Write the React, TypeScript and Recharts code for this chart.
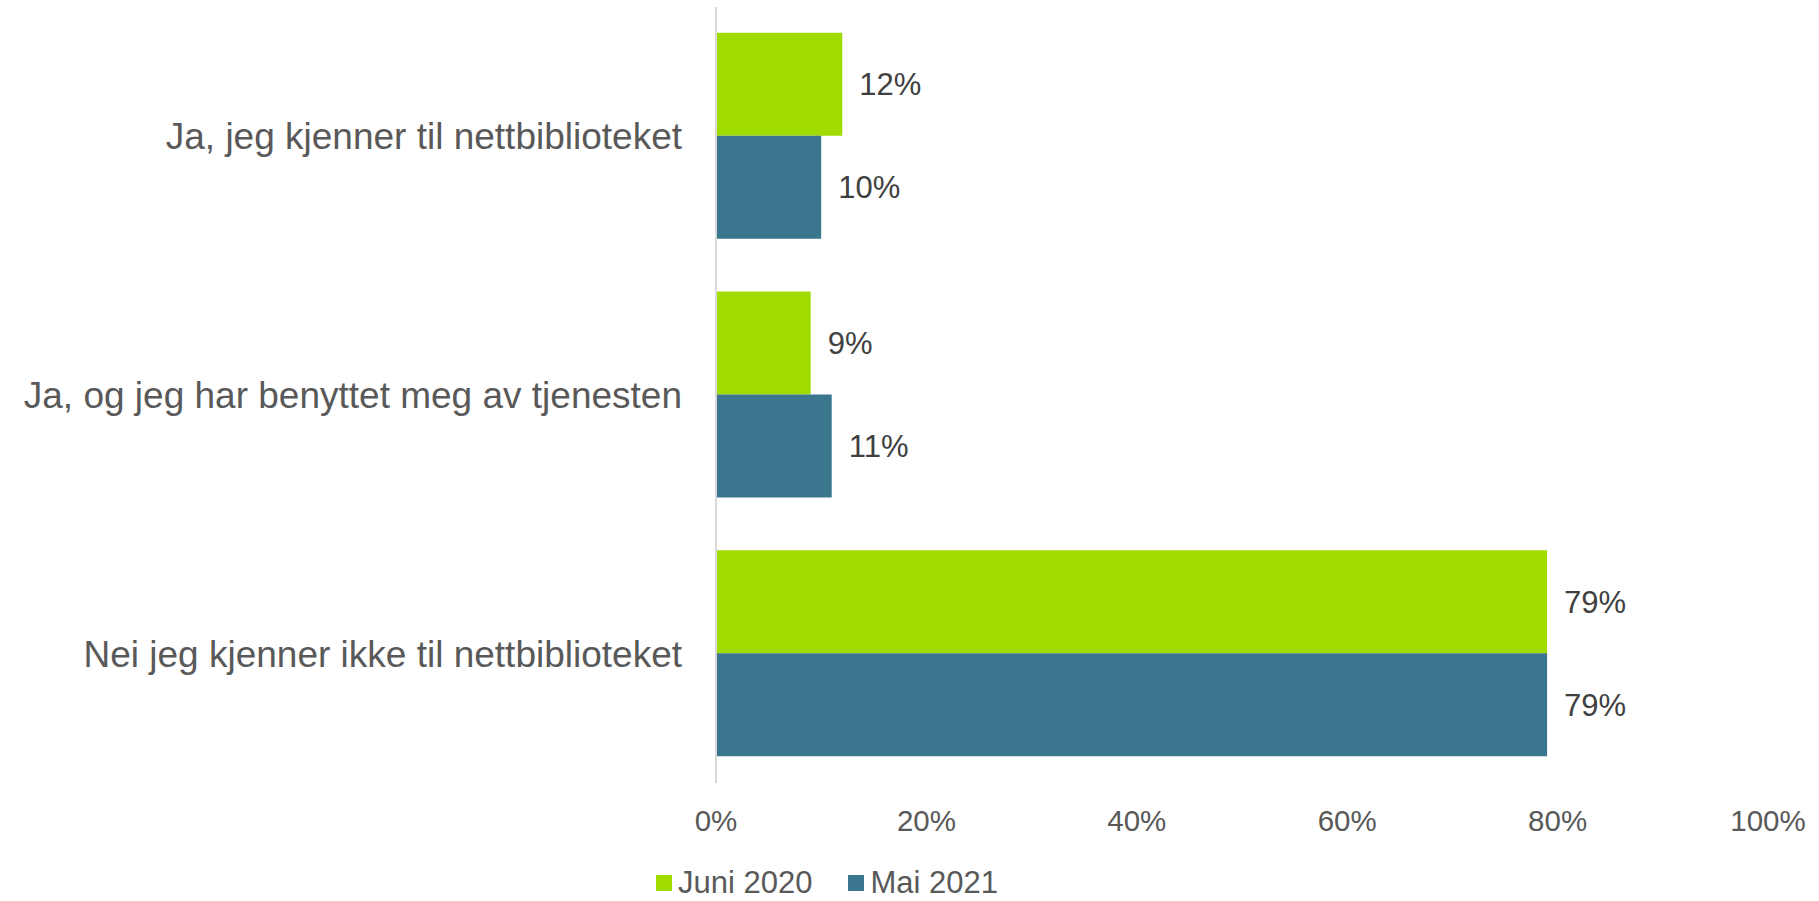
import { BarChart, Bar, XAxis, YAxis, LabelList, Legend } from "recharts";

const categories = [
  "Ja, jeg kjenner til nettbiblioteket",
  "Ja, og jeg har benyttet meg av tjenesten",
  "Nei jeg kjenner ikke til nettbiblioteket",
];
const juni2020 = [12, 9, 79];
const mai2021 = [10, 11, 79];
const xTicks = [0, 20, 40, 60, 80, 100];

const series = [
  { key: "juni2020", name: "Juni 2020", color: "#A0DC00" },
  { key: "mai2021", name: "Mai 2021", color: "#3A778F" },
];

const data = categories.map((name, i) => ({
  name,
  juni2020: juni2020[i],
  mai2021: mai2021[i],
}));

const FONT = "'Liberation Sans', Arial, sans-serif";

function LegendContent() {
  return (
    <div style={{ display: "flex", alignItems: "center", fontFamily: FONT, fontSize: 31, color: "#595959", lineHeight: "26px" }}>
      {series.map((s, i) => (
        <div key={s.key} style={{ display: "flex", alignItems: "center", marginLeft: i === 0 ? 0 : 36 }}>
          <span style={{ display: "inline-block", width: 16, height: 16, background: s.color, marginRight: 6 }} />
          <span>{s.name}</span>
        </div>
      ))}
    </div>
  );
}

export default function App() {
  return (
    <div style={{ position: "fixed", left: 0, top: 0, width: 1819, height: 901, background: "#fff" }}>
      <BarChart
        width={1819}
        height={901}
        data={data}
        layout="vertical"
        margin={{ top: 7, right: 51, bottom: 58, left: 0 }}
        barCategoryGap="10%"
        barGap={0}
      >
        <XAxis
          type="number"
          domain={[0, 100]}
          ticks={xTicks}
          tickFormatter={(v) => `${v}%`}
          axisLine={false}
          tickLine={false}
          height={60}
          tickMargin={21}
          tick={{ fontSize: 29.5, fill: "#595959", fontFamily: FONT }}
        />
        <YAxis
          type="category"
          dataKey="name"
          width={716}
          axisLine={{ stroke: "#D9D9D9", strokeWidth: 2 }}
          tickLine={false}
          tickMargin={28}
          tick={{ fontSize: 37, fill: "#595959", fontFamily: FONT }}
        />
        <Legend
          verticalAlign="middle"
          align="center"
          layout="horizontal"
          content={<LegendContent />}
          wrapperStyle={{ top: 870, left: 656, width: "auto" }}
        />
        {series.map((s) => (
          <Bar key={s.key} dataKey={s.key} name={s.name} fill={s.color} isAnimationActive={false}>
            <LabelList
              dataKey={s.key}
              position="right"
              offset={17}
              formatter={(v: number) => `${v}%`}
              style={{ fontSize: 31, fill: "#404040", fontFamily: FONT }}
            />
          </Bar>
        ))}
      </BarChart>
    </div>
  );
}
